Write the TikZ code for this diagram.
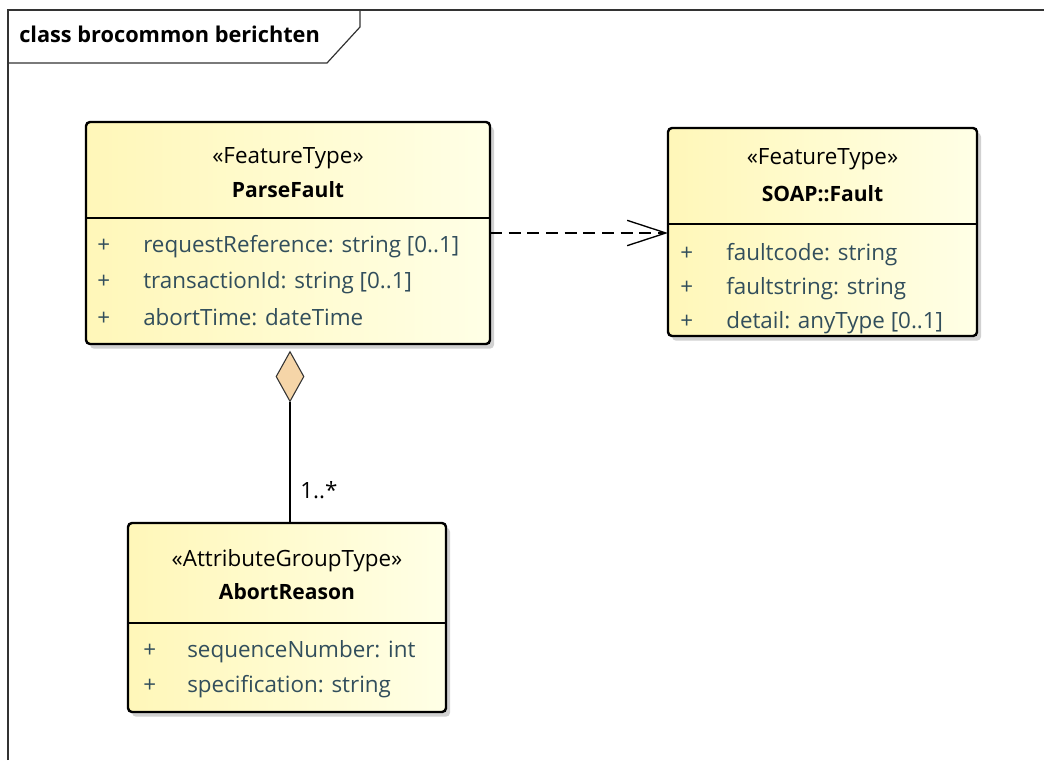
\documentclass[tikz,border=0pt]{standalone}
\usepackage{fontspec}
\setmainfont{Open Sans}
\usetikzlibrary{arrows.meta,shapes.geometric,shadows}
\definecolor{boxleft}{RGB}{255,247,185}
\definecolor{boxright}{RGB}{255,255,230}
\definecolor{attrcol}{RGB}{50,78,92}
\definecolor{diamondfill}{RGB}{245,213,168}

\begin{document}
\begin{tikzpicture}[x=0.75pt, y=-0.75pt, font=\fontsize{16.8}{20}\selectfont,
	classbox/.style={rectangle, rounded corners=3pt, draw=black, line width=1.8pt, left color=boxleft, right color=boxright, drop shadow={shadow xshift=3pt, shadow yshift=-3.5pt, opacity=0.45, fill=black!40}, inner sep=0pt, outer sep=0pt},
	stereo/.style={inner sep=0pt, text height=12pt, text depth=4pt},
	cname/.style={inner sep=0pt, text height=12pt, text depth=4pt, font=\fontsize{15.8}{20}\selectfont\bfseries},
	attr/.style={anchor=west, inner sep=0pt, text=attrcol, text height=12pt, text depth=4pt},
	divider/.style={line width=1.8pt}]
			\useasboundingbox (0,0) rectangle (1044,760);
			% frame
			\draw[line width=0.9pt, black!80] (8,760) -- (8,10) -- (1044,10);
			\draw[line width=0.9pt, black!80] (8,63) -- (327,63) -- (360,27) -- (360,10);
			\node[anchor=west, inner sep=0pt, text height=12pt, text depth=4pt, font=\fontsize{16.3}{20}\selectfont\bfseries] (title) at (19,37){class brocommon berichten};
			
			% classes
			\node[classbox, minimum width=303pt, minimum height=166.5pt] (pf) at (288,233){};
			\node[classbox, minimum width=231.75pt, minimum height=156pt] (sf) at (822.5,232){};
			\node[classbox, minimum width=238.5pt, minimum height=141.75pt] (ar) at (287,617.5){};
			
			\draw[divider] (pf.west |- 0,218) -- (pf.east |- 0,218);
			\draw[divider] (sf.west |- 0,224) -- (sf.east |- 0,224);
			\draw[divider] (ar.west |- 0,623) -- (ar.east |- 0,623);
			
			\node[stereo] (pfst) at (288,158){«FeatureType»};
			\node[cname] (pfname) at (288,192){ParseFault};
			\node[attr] (pfp1) at (97,247){+};
			\node[attr] (pfa1) at (143,247){requestReference: string [0..1]};
			\node[attr] (pfp2) at (97,283){+};
			\node[attr] (pfa2) at (143,283){transactionId: string [0..1]};
			\node[attr] (pfp3) at (97,320){+};
			\node[attr] (pfa3) at (143,320){abortTime: dateTime};
			
			\node[stereo] (sfst) at (822.5,159){«FeatureType»};
			\node[cname] (sfname) at (822.5,196){SOAP::Fault};
			\node[attr] (sfp1) at (680,255){+};
			\node[attr] (sfa1) at (726,255){faultcode: string};
			\node[attr] (sfp2) at (680,289){+};
			\node[attr] (sfa2) at (726,289){faultstring: string};
			\node[attr] (sfp3) at (680,323){+};
			\node[attr] (sfa3) at (726,323){detail: anyType [0..1]};
			
			\node[stereo] (arst) at (287,561){«AttributeGroupType»};
			\node[cname] (arname) at (287,594){AbortReason};
			\node[attr] (arp1) at (143,652){+};
			\node[attr] (ara1) at (187,652){sequenceNumber: int};
			\node[attr] (arp2) at (143,687){+};
			\node[attr] (ara2) at (187,687){specification: string};
			
			% connectors
			\draw[line width=1pt, dash pattern=on 9pt off 5pt, -{Straight Barb[length=29pt, width=19pt]}] (pf.east) -- (pf.east -| sf.west);
			\node[diamond, draw=black!80, line width=0.8pt, fill=diamondfill, minimum width=21pt, minimum height=37.5pt, inner sep=0pt, anchor=north] (agg) at (290,351){};
			\draw[line width=0.9pt] (agg.south) -- (agg.south |- ar.north);
			\node[anchor=west, inner sep=0pt, text height=12pt, text depth=4pt] (mult) at (300,493){1..*};
\end{tikzpicture}
\end{document}
